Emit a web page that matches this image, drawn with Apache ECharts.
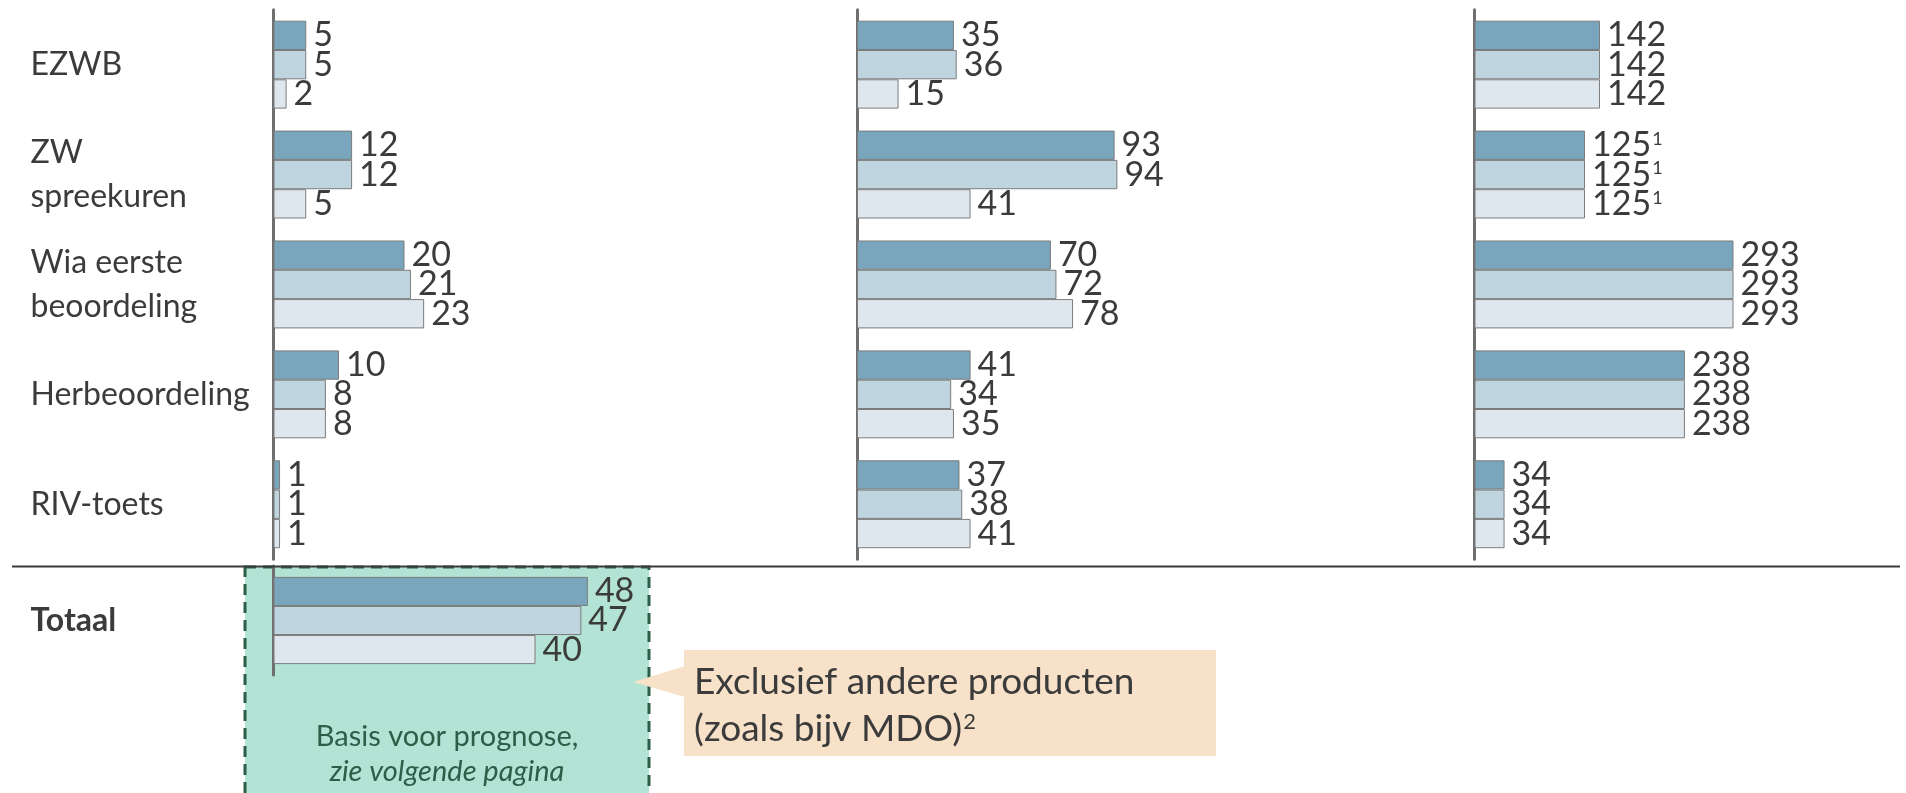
<!DOCTYPE html>
<html>
<head>
<meta charset="utf-8">
<script src="https://cdn.jsdelivr.net/npm/echarts@6/dist/echarts.min.js"></script>
<style>
  html, body { margin: 0; padding: 0; background: #ffffff; }
  #chart { width: 1906px; height: 793px; }
</style>
</head>
<body>
<div id="chart"></div>
<script>
// Product categories (rows) and the Totaal row
const categories = ['EZWB', 'ZW\nspreekuren', 'Wia eerste\nbeoordeling', 'Herbeoordeling', 'RIV-toets'];
const totalCategory = ['Totaal'];

// Left panel: three series per category
const leftDark = [5, 12, 20, 10, 1];
const leftMid = [5, 12, 21, 8, 1];
const leftLight = [2, 5, 23, 8, 1];

// Middle panel
const midDark = [35, 93, 70, 41, 37];
const midMid = [36, 94, 72, 34, 38];
const midLight = [15, 41, 78, 35, 41];

// Right panel
const rightDark = [142, 125, 293, 238, 34];
const rightMid = [142, 125, 293, 238, 34];
const rightLight = [142, 125, 293, 238, 34];
const rightFootnotes = ['', '1', '', '', ''];

// Totaal row (left panel scale)
const totalDark = [48];
const totalMid = [47];
const totalLight = [40];

// Notes
const boxLine1 = 'Basis voor prognose,';
const boxLine2 = 'zie volgende pagina';
const calloutLine1 = 'Exclusief andere producten';
const calloutLine2 = '(zoals bijv MDO)';
const calloutNote = '2';

const FONT = 'Lato, "Open Sans", sans-serif';
const TEXT = '#3b3b3b';
const COLORS = ['#79a6bd', '#bed4df', '#dfe7ee'];
const BORDER = '#7c7c7c';
const AXIS = '#6f6f6f';
const GREEN_TEXT = '#2c5e48';

const chart = echarts.init(document.getElementById('chart'), null, { renderer: 'canvas' });

function grid(left, top, width, height) {
  return { left: left, top: top, width: width, height: height, containLabel: false };
}

function valueAxis(gridIndex, max) {
  return { type: 'value', gridIndex: gridIndex, min: 0, max: max, show: false };
}

function catAxis(gridIndex, data, labelOpts) {
  return {
    type: 'category', gridIndex: gridIndex, data: data, inverse: true,
    axisLine: { show: true, lineStyle: { color: AXIS, width: 3 } },
    axisTick: { show: false },
    splitLine: { show: false },
    axisLabel: labelOpts || { show: false }
  };
}

function barSeries(idx, values, colorIdx, notes) {
  return {
    type: 'bar',
    name: 'reeks ' + idx + '-' + colorIdx,
    xAxisIndex: idx, yAxisIndex: idx,
    data: values,
    barGap: '0%',
    barCategoryGap: '20%',
    itemStyle: { color: COLORS[colorIdx], borderColor: BORDER, borderWidth: 1 },
    label: {
      show: true, position: 'right', distance: 7,
      formatter: function (p) {
        const n = notes ? notes[p.dataIndex] : '';
        return n ? '{v|' + p.value + '}{s|' + n + '}' : '{v|' + p.value + '}';
      },
      rich: {
        v: { fontSize: 34, fontFamily: FONT, color: TEXT },
        s: { fontSize: 18, fontFamily: FONT, color: TEXT, verticalAlign: 'top', padding: [2, 0, 0, 1] }
      }
    }
  };
}

const catLabel = {
  show: true, align: 'left', margin: 243, color: TEXT,
  fontFamily: FONT, fontSize: 32, lineHeight: 44
};
const totalLabel = {
  show: true, align: 'left', margin: 243, color: TEXT,
  fontFamily: FONT, fontSize: 32, fontWeight: 'bold'
};

const option = {
  backgroundColor: '#ffffff',
  animation: false,
  grid: [
    grid(273.5, 9.7, 393, 549.5),
    grid(857, 9.7, 277, 549.5),
    grid(1474.5, 9.7, 265.2, 549.5),
    grid(273.5, 566, 393, 109)
  ],
  xAxis: [
    valueAxis(0, 60),
    valueAxis(1, 100),
    valueAxis(2, 300),
    valueAxis(3, 60)
  ],
  yAxis: [
    catAxis(0, categories, catLabel),
    catAxis(1, categories),
    catAxis(2, categories),
    catAxis(3, totalCategory, totalLabel)
  ],
  series: [
    barSeries(0, leftDark, 0), barSeries(0, leftMid, 1), barSeries(0, leftLight, 2),
    barSeries(1, midDark, 0), barSeries(1, midMid, 1), barSeries(1, midLight, 2),
    barSeries(2, rightDark, 0, rightFootnotes), barSeries(2, rightMid, 1, rightFootnotes), barSeries(2, rightLight, 2, rightFootnotes),
    barSeries(3, totalDark, 0), barSeries(3, totalMid, 1), barSeries(3, totalLight, 2)
  ],
  graphic: [
    // green dashed box behind the Totaal bars
    {
      type: 'rect', z: -10,
      shape: { x: 245, y: 567, width: 404, height: 240 },
      style: { fill: '#b2e3d5', stroke: GREEN_TEXT, lineWidth: 3, lineDash: [11, 7] }
    },
    {
      type: 'text', z: 5, x: 447, y: 737,
      style: { text: boxLine1, fill: GREEN_TEXT, font: '29px ' + FONT, align: 'center', verticalAlign: 'middle' }
    },
    {
      type: 'text', z: 5, x: 447, y: 772,
      style: { text: boxLine2, fill: GREEN_TEXT, font: 'italic 29px ' + FONT, align: 'center', verticalAlign: 'middle' }
    },
    // separator between rows and Totaal
    {
      type: 'line', z: 1,
      shape: { x1: 12, y1: 566.5, x2: 1900, y2: 566.5 },
      style: { stroke: '#3a3a3a', lineWidth: 2 }
    },
    // callout
    {
      type: 'polygon', z: 4,
      shape: { points: [[633, 682], [685, 666], [685, 697]] },
      style: { fill: '#f7e2c9' }
    },
    {
      type: 'rect', z: 4,
      shape: { x: 684, y: 650, width: 532, height: 106 },
      style: { fill: '#f7e2c9' }
    },
    {
      type: 'text', z: 5, x: 694, y: 682,
      style: { text: calloutLine1, fill: TEXT, font: '37px ' + FONT, align: 'left', verticalAlign: 'middle' }
    },
    {
      type: 'text', z: 5, x: 694, y: 729,
      style: {
        text: '{a|' + calloutLine2 + '}{s|' + calloutNote + '}',
        align: 'left', verticalAlign: 'middle',
        rich: {
          a: { fontSize: 37, fontFamily: FONT, fill: TEXT },
          s: { fontSize: 22, fontFamily: FONT, fill: TEXT, verticalAlign: 'top', padding: [0, 0, 0, 1] }
        }
      }
    }
  ]
};

chart.setOption(option);
</script>
</body>
</html>
